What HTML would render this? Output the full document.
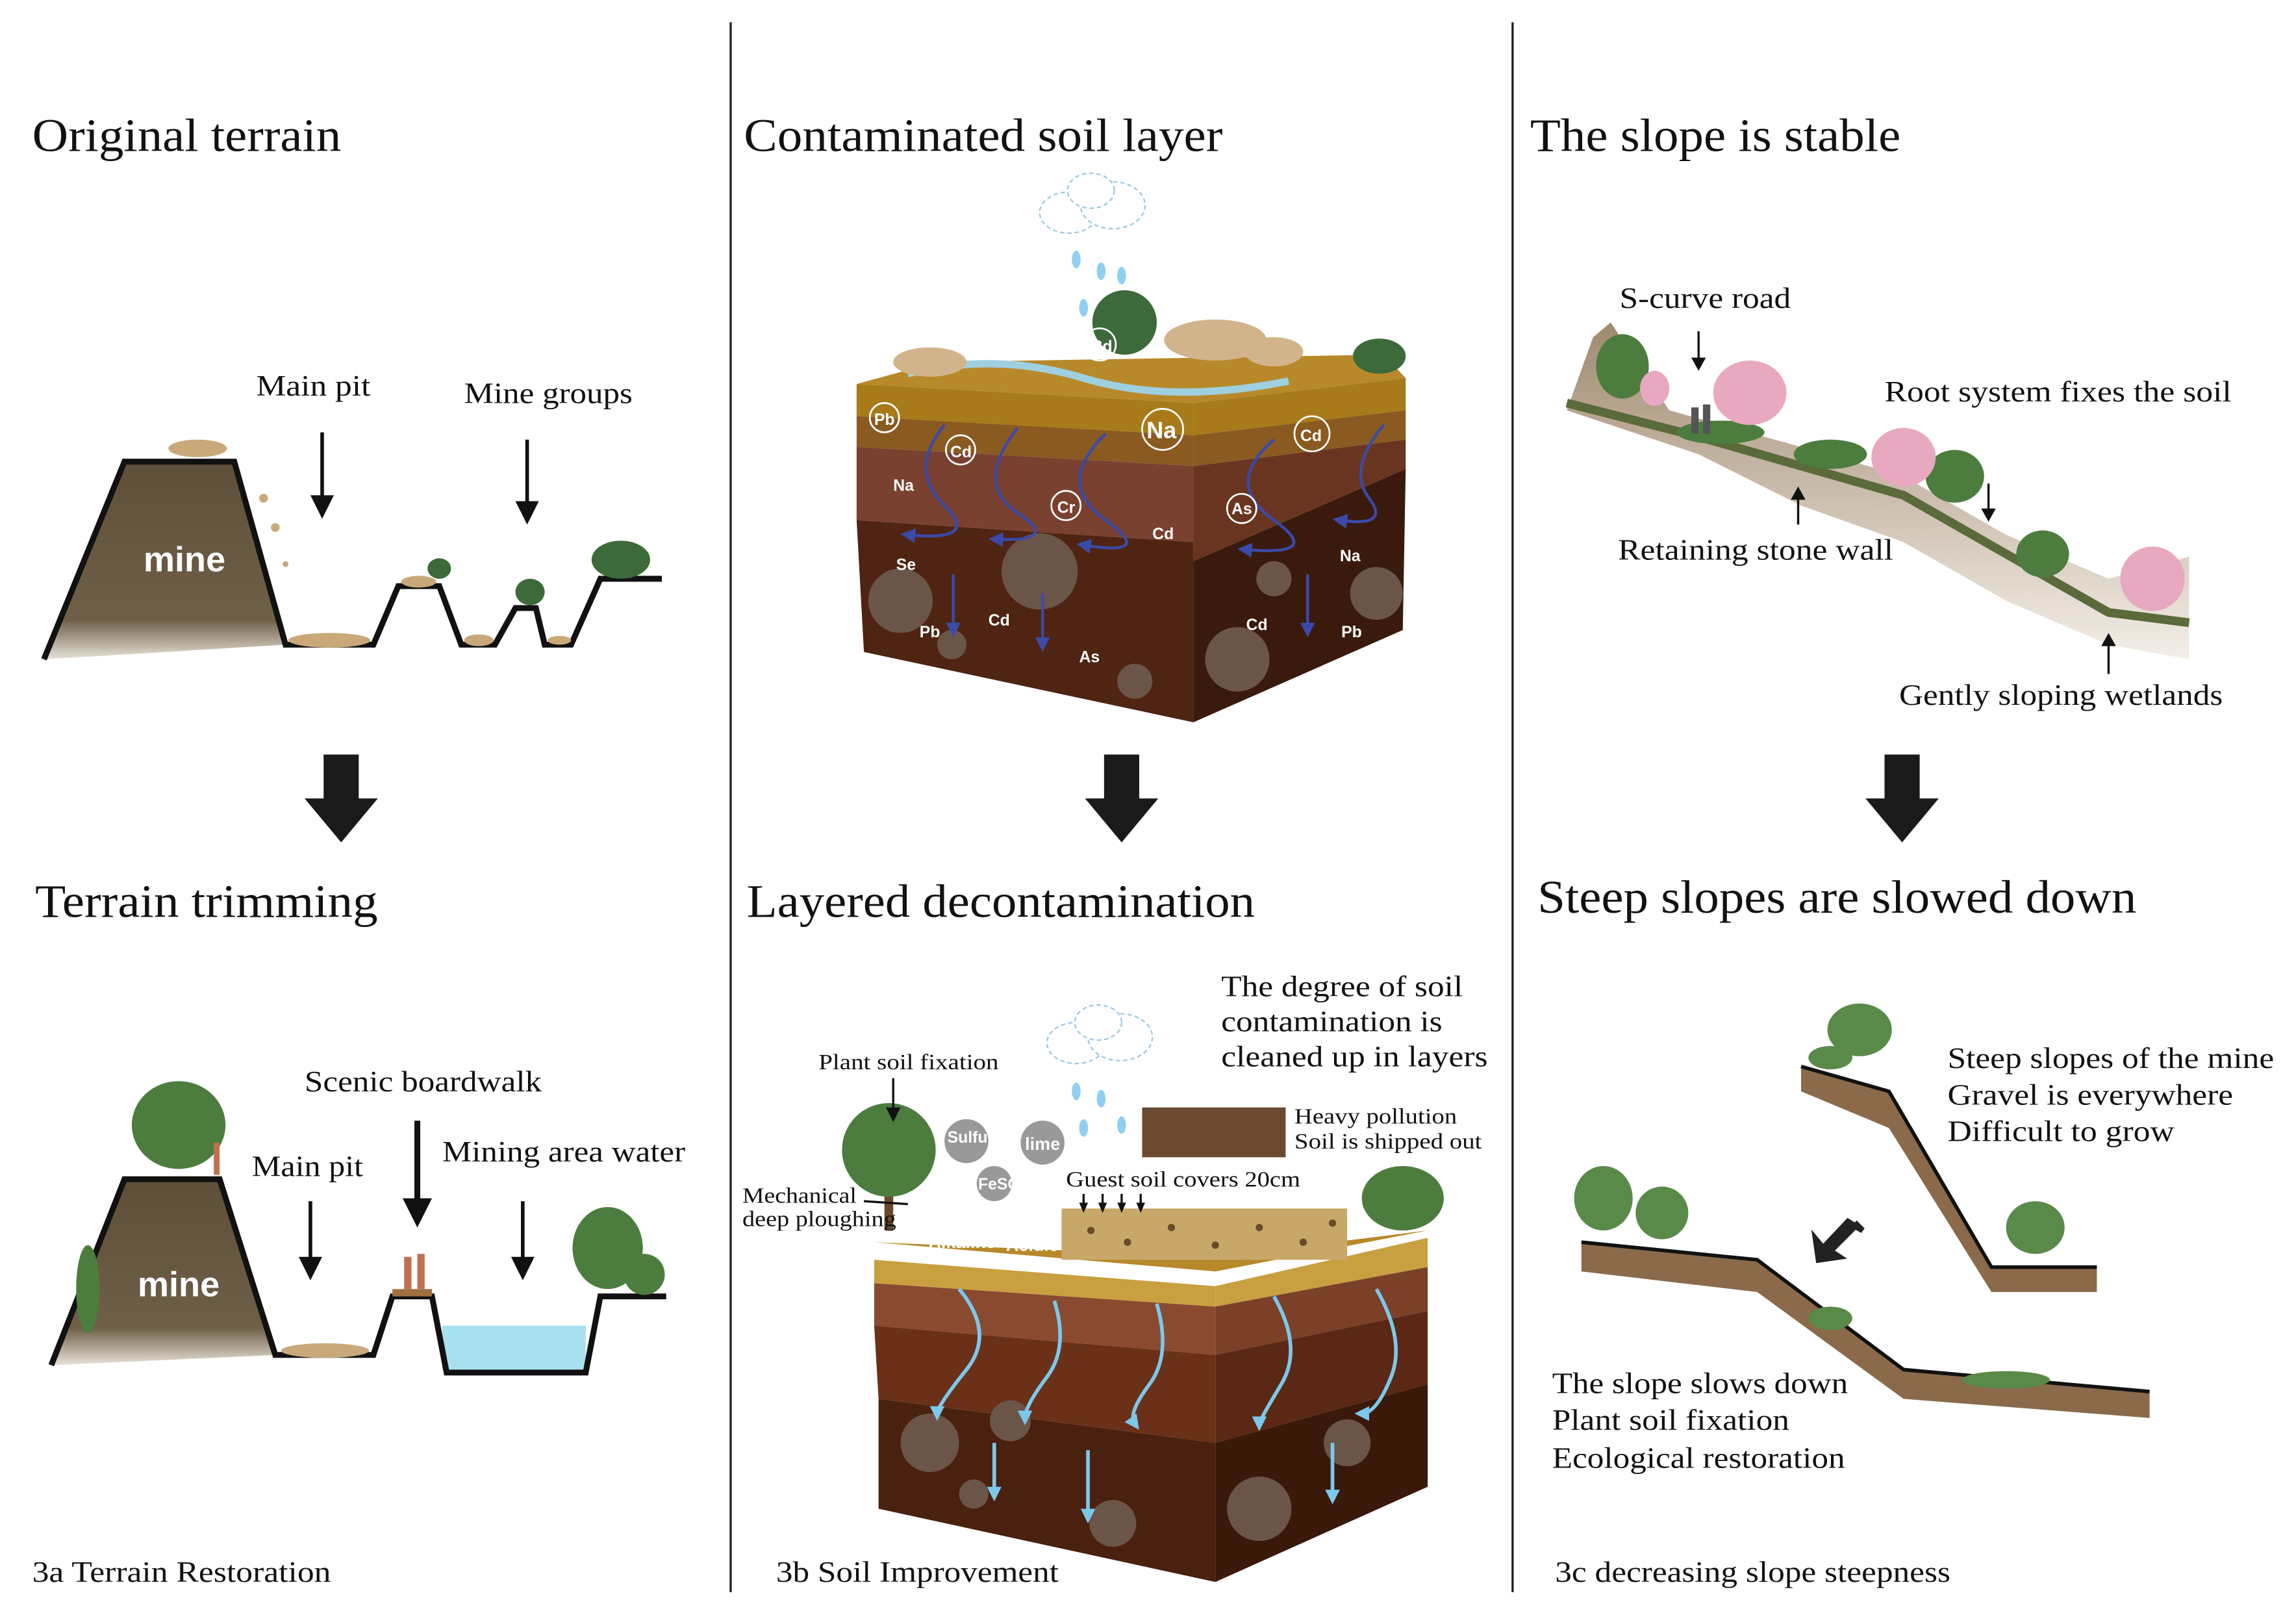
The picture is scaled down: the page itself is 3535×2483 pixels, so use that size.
<!DOCTYPE html>
<html><head><meta charset="utf-8"><style>
html,body{margin:0;padding:0;background:#fff;}
svg{display:block;}
.t{font-family:"Liberation Serif",serif;font-size:32px;fill:#111;}
.l{font-family:"Liberation Serif",serif;font-size:20px;fill:#111;}
.s{font-family:"Liberation Serif",serif;font-size:15px;fill:#111;}
.c{font-family:"Liberation Serif",serif;font-size:20px;fill:#111;}
.e{font-family:"Liberation Sans",sans-serif;font-size:11px;fill:#fff;font-weight:bold;}
</style></head><body>
<svg width="3535" height="2483" viewBox="0 0 1568 1101" xmlns="http://www.w3.org/2000/svg">
<defs>
<marker id="bh" markerWidth="10" markerHeight="10" refX="5" refY="5" orient="auto" viewBox="0 0 10 10" markerUnits="userSpaceOnUse"><path d="M0,0 L10,5 L0,10z" fill="#3a4aa8"/></marker>
<marker id="lh" markerWidth="10" markerHeight="10" refX="5" refY="5" orient="auto" viewBox="0 0 10 10" markerUnits="userSpaceOnUse"><path d="M0,0 L10,5 L0,10z" fill="#7cc8ec"/></marker>
<linearGradient id="mg" x1="0" y1="0" x2="0" y2="1"><stop offset="0" stop-color="#5e4f3a"/><stop offset="0.8" stop-color="#6e5f48"/><stop offset="1" stop-color="#e8e2d8"/></linearGradient>
<linearGradient id="sl" x1="0" y1="0" x2="0" y2="1"><stop offset="0" stop-color="#a08a70"/><stop offset="1" stop-color="#f4eee8"/></linearGradient>
</defs>
<rect width="1568" height="1101" fill="#fff"/>
<line x1="499" y1="15" x2="499" y2="1087" stroke="#222" stroke-width="1.5"/>
<line x1="1033" y1="15" x2="1033" y2="1087" stroke="#222" stroke-width="1.5"/>

<g lengthAdjust="spacingAndGlyphs">
<text class="t" x="22" y="103" textLength="211" lengthAdjust="spacingAndGlyphs">Original terrain</text>
<text class="t" x="508" y="103" textLength="327" lengthAdjust="spacingAndGlyphs">Contaminated soil layer</text>
<text class="t" x="1045" y="103" textLength="253" lengthAdjust="spacingAndGlyphs">The slope is stable</text>
<text class="t" x="24" y="626" textLength="234" lengthAdjust="spacingAndGlyphs">Terrain trimming</text>
<text class="t" x="510" y="626" textLength="347" lengthAdjust="spacingAndGlyphs">Layered decontamination</text>
<text class="t" x="1050" y="623" textLength="409" lengthAdjust="spacingAndGlyphs">Steep slopes are slowed down</text>
<text class="c" x="22" y="1080" textLength="204" lengthAdjust="spacingAndGlyphs">3a Terrain Restoration</text>
<text class="c" x="530" y="1080" textLength="193" lengthAdjust="spacingAndGlyphs">3b Soil Improvement</text>
<text class="c" x="1062" y="1080" textLength="270" lengthAdjust="spacingAndGlyphs">3c decreasing slope steepness</text>
</g>

<!-- big arrows -->
<g fill="#1a1a1a">
<path d="M221,515 H245 V545 H258 L233,575 L208,545 H221Z"/>
<path d="M754,515 H778 V545 H791 L766,575 L741,545 H754Z"/>
<path d="M1287,515 H1311 V545 H1324 L1299,575 L1274,545 H1287Z"/>
</g>

<!-- 3a top -->
<polygon points="30,450 85,315 160,315 195,440" fill="url(#mg)"/>
<path d="M30,450 L85,315 L160,315 L195,440 L255,440 L272,400 L300,400 L315,440 L338,440 L352,415 L366,415 L372,440 L390,440 L410,395 L452,395" fill="none" stroke="#111" stroke-width="4"/>
<text x="126" y="390" text-anchor="middle" font-family="Liberation Sans,sans-serif" font-size="24" font-weight="bold" fill="#fff">mine</text>
<g fill="#c9a97a"><ellipse cx="135" cy="306" rx="20" ry="6"/><ellipse cx="225" cy="437" rx="28" ry="5"/><ellipse cx="286" cy="397" rx="12" ry="4"/><ellipse cx="327" cy="437" rx="10" ry="4"/><ellipse cx="382" cy="437" rx="8" ry="3"/><circle cx="180" cy="340" r="3"/><circle cx="188" cy="360" r="3"/><circle cx="195" cy="385" r="2"/></g>
<g fill="#3d6a3a"><ellipse cx="424" cy="382" rx="20" ry="13"/><ellipse cx="362" cy="404" rx="10" ry="9"/><ellipse cx="300" cy="388" rx="8" ry="7"/></g>
<text class="l" x="175" y="270" textLength="78" lengthAdjust="spacingAndGlyphs">Main pit</text>
<text class="l" x="317" y="275" textLength="115" lengthAdjust="spacingAndGlyphs">Mine groups</text>
<g stroke="#111" stroke-width="2.5"><line x1="220" y1="295" x2="220" y2="340"/><line x1="360" y1="300" x2="360" y2="344"/></g>
<g fill="#111"><path d="M212,338 H228 L220,354Z"/><path d="M352,342 H368 L360,358Z"/></g>

<!-- 3a bottom -->
<rect x="302" y="905" width="98" height="30" fill="#a8e0f0"/>
<polygon points="35,932 85,805 150,805 188,925" fill="url(#mg)"/>
<path d="M35,932 L85,805 L150,805 L188,925 L255,925 L268,885 L295,885 L305,937 L400,937 L410,885 L455,885" fill="none" stroke="#111" stroke-width="4"/>
<text x="122" y="885" text-anchor="middle" font-family="Liberation Sans,sans-serif" font-size="24" font-weight="bold" fill="#fff">mine</text>
<g fill="#4c7d3e"><ellipse cx="122" cy="768" rx="32" ry="30"/><ellipse cx="415" cy="852" rx="24" ry="28"/><ellipse cx="60" cy="880" rx="8" ry="30"/><ellipse cx="440" cy="870" rx="14" ry="14"/></g>
<ellipse cx="222" cy="922" rx="30" ry="5" fill="#c9a97a"/>
<rect x="268" y="880" width="27" height="5" fill="#a07040"/>
<g fill="#c07050"><rect x="276" y="858" width="5" height="22"/><rect x="285" y="856" width="5" height="24"/><rect x="146" y="780" width="4" height="22"/></g>
<text class="l" x="208" y="745" textLength="162" lengthAdjust="spacingAndGlyphs">Scenic boardwalk</text>
<text class="l" x="172" y="803" textLength="76" lengthAdjust="spacingAndGlyphs">Main pit</text>
<text class="l" x="302" y="793" textLength="166" lengthAdjust="spacingAndGlyphs">Mining area water</text>
<g stroke="#111"><line x1="212" y1="820" x2="212" y2="860" stroke-width="2.5"/><line x1="285" y1="765" x2="285" y2="820" stroke-width="4"/><line x1="357" y1="820" x2="357" y2="860" stroke-width="2.5"/></g>
<g fill="#111"><path d="M204,858 H220 L212,874Z"/><path d="M275,818 H295 L285,838Z"/><path d="M349,858 H365 L357,874Z"/></g>

<!-- 3b top block -->
<g>
<polygon points="585,262 640,247 945,242 960,258 815,275" fill="#b8892a"/>
<path d="M620,255 Q680,240 740,258 T880,260" stroke="#9fd0e0" stroke-width="5" fill="none"/>
<polygon points="585,262 815,275 815,297 585,284" fill="#a87a1a"/>
<polygon points="585,284 815,297 815,318 585,305" fill="#8a5a20"/>
<polygon points="585,305 815,318 815,370 585,355" fill="#7a4030"/>
<polygon points="585,355 815,370 815,493 590,445" fill="#4f2412"/>
<polygon points="815,275 960,258 960,280 815,297" fill="#a87a1a"/>
<polygon points="815,297 960,280 960,300 815,318" fill="#8a5a20"/>
<polygon points="815,318 960,300 960,320 815,383" fill="#6a3520"/>
<polygon points="815,383 960,320 958,430 815,493" fill="#3a1a0c"/>
<g fill="#6b5548"><circle cx="615" cy="410" r="22"/><circle cx="710" cy="390" r="26"/><circle cx="845" cy="450" r="22"/><circle cx="940" cy="405" r="18"/><circle cx="650" cy="440" r="10"/><circle cx="775" cy="465" r="12"/><circle cx="870" cy="395" r="12"/></g>
<g fill="#d2b48c"><ellipse cx="635" cy="247" rx="25" ry="10"/><ellipse cx="830" cy="232" rx="35" ry="14"/><ellipse cx="870" cy="240" rx="20" ry="10"/></g>
<g fill="#3d6a3a"><ellipse cx="768" cy="220" rx="22" ry="22"/><ellipse cx="942" cy="243" rx="18" ry="12"/></g>
<g stroke="#3a4aa8" stroke-width="2" fill="none" marker-end="url(#bh)"><path d="M645,290 Q620,320 645,345 T620,365"/><path d="M695,292 Q665,330 695,350 T680,368"/><path d="M755,296 Q720,330 755,355 T740,372"/><path d="M870,300 Q835,330 870,355 T850,375"/><path d="M945,290 Q920,320 935,340 T915,355"/><path d="M651,392 V430"/><path d="M712,405 V440"/><path d="M893,392 V430"/></g>
<g fill="none" stroke="#fff" stroke-width="1.2"><circle cx="604" cy="285" r="10"/><circle cx="656" cy="307" r="10"/><circle cx="794" cy="293" r="14"/><circle cx="896" cy="296" r="12"/><circle cx="728" cy="345" r="10"/><circle cx="848" cy="347" r="10"/><circle cx="751" cy="235" r="11"/></g>
<g class="e"><text x="597" y="290">Pb</text><text x="649" y="312">Cd</text><text x="783" y="299" font-size="16">Na</text><text x="888" y="301">Cd</text><text x="722" y="350">Cr</text><text x="841" y="351">As</text><text x="745" y="240">Cd</text><text x="612" y="389">Se</text><text x="628" y="435">Pb</text><text x="675" y="427">Cd</text><text x="737" y="452">As</text><text x="851" y="430">Cd</text><text x="916" y="435">Pb</text><text x="915" y="383">Na</text><text x="610" y="335">Na</text><text x="787" y="368">Cd</text></g>
</g>
<g fill="#fff" stroke="#9cc8e0" stroke-dasharray="3,2"><ellipse cx="730" cy="145" rx="20" ry="14"/><ellipse cx="760" cy="140" rx="22" ry="16"/><ellipse cx="745" cy="130" rx="16" ry="12"/></g>
<g fill="#8fd0f0"><ellipse cx="735" cy="177" rx="3" ry="6"/><ellipse cx="752" cy="185" rx="3" ry="6"/><ellipse cx="766" cy="188" rx="3" ry="6"/><ellipse cx="740" cy="210" rx="3" ry="6"/></g>

<!-- 3b bottom block -->
<g>
<polygon points="597,848 830,858 975,840 830,868" fill="#b8892a"/>
<polygon points="597,860 830,878 830,892 597,876" fill="#c8a040"/>
<polygon points="597,876 830,892 830,925 597,905" fill="#8a4a30"/>
<polygon points="597,905 830,925 830,985 600,955" fill="#6a3018"/>
<polygon points="600,955 830,985 830,1080 600,1030" fill="#4a200e"/>
<polygon points="830,878 975,845 975,865 830,892" fill="#c8a040"/>
<polygon points="830,892 975,865 975,895 830,925" fill="#7a4028"/>
<polygon points="830,925 975,895 975,945 830,985" fill="#5a2814"/>
<polygon points="830,985 975,945 975,1015 830,1080" fill="#3a180a"/>
<rect x="725" y="825" width="195" height="35" fill="#c8a868"/>
<g fill="#6a4a2a"><circle cx="745" cy="840" r="2.5"/><circle cx="770" cy="848" r="2.5"/><circle cx="800" cy="838" r="2.5"/><circle cx="830" cy="850" r="2.5"/><circle cx="860" cy="838" r="2.5"/><circle cx="890" cy="848" r="2.5"/><circle cx="910" cy="835" r="2.5"/></g>
<rect x="780" y="756" width="98" height="34" fill="#6b4a30"/>
<g fill="#6b5548"><circle cx="635" cy="985" r="20"/><circle cx="690" cy="970" r="14"/><circle cx="760" cy="1040" r="16"/><circle cx="860" cy="1030" r="22"/><circle cx="920" cy="985" r="16"/><circle cx="665" cy="1020" r="10"/></g>
<g stroke="#7cc8ec" stroke-width="2.5" fill="none" marker-end="url(#lh)"><path d="M655,880 Q680,910 660,935 T640,965"/><path d="M720,888 Q730,920 715,940 T700,968"/><path d="M790,890 Q800,925 785,945 T775,972"/><path d="M870,885 Q890,920 875,945 T860,972"/><path d="M940,880 Q960,915 950,940 T930,965"/><path d="M679,985 V1020"/><path d="M743,990 V1035"/><path d="M910,985 V1022"/></g>
<rect x="604" y="800" width="6" height="40" fill="#6a4a2a"/>
<g fill="#4c7d3e"><ellipse cx="607" cy="785" rx="32" ry="32"/><ellipse cx="958" cy="818" rx="28" ry="22"/></g>
<g fill="#999"><circle cx="660" cy="779" r="15"/><circle cx="712" cy="780" r="15"/><circle cx="679" cy="808" r="12"/></g>
<g class="e" font-size="9"><text x="647" y="780">Sulfur</text><text x="700" y="785" font-size="12">lime</text><text x="668" y="812">FeSO4</text><text x="634" y="852" font-size="12">Alkaline</text><text x="687" y="854" font-size="12">Acidic</text></g>
</g>
<g fill="#fff" stroke="#9cc8e0" stroke-dasharray="3,2"><ellipse cx="735" cy="712" rx="20" ry="14"/><ellipse cx="765" cy="708" rx="22" ry="16"/><ellipse cx="750" cy="698" rx="16" ry="12"/></g>
<g fill="#8fd0f0"><ellipse cx="735" cy="745" rx="3" ry="6"/><ellipse cx="752" cy="750" rx="3" ry="6"/><ellipse cx="766" cy="768" rx="3" ry="6"/><ellipse cx="740" cy="770" rx="3" ry="6"/></g>
<text class="s" x="559" y="730" textLength="123" lengthAdjust="spacingAndGlyphs">Plant soil fixation</text>
<text class="s" x="507" y="821" textLength="78" lengthAdjust="spacingAndGlyphs">Mechanical</text>
<text class="s" x="507" y="837" textLength="105" lengthAdjust="spacingAndGlyphs">deep ploughing</text>
<text class="s" x="728" y="810" textLength="160" lengthAdjust="spacingAndGlyphs">Guest soil covers 20cm</text>
<text class="s" x="884" y="767" textLength="111" lengthAdjust="spacingAndGlyphs">Heavy pollution</text>
<text class="s" x="884" y="784" textLength="128" lengthAdjust="spacingAndGlyphs">Soil is shipped out</text>
<text class="l" x="834" y="680" textLength="165" lengthAdjust="spacingAndGlyphs">The degree of soil</text>
<text class="l" x="834" y="704" textLength="151" lengthAdjust="spacingAndGlyphs">contamination is</text>
<text class="l" x="834" y="728" textLength="182" lengthAdjust="spacingAndGlyphs">cleaned up in layers</text>
<g stroke="#111" stroke-width="1.5"><line x1="610" y1="736" x2="610" y2="758"/><line x1="740" y1="815" x2="740" y2="822"/><line x1="753" y1="815" x2="753" y2="822"/><line x1="766" y1="815" x2="766" y2="822"/><line x1="779" y1="815" x2="779" y2="822"/><line x1="590" y1="820" x2="620" y2="822"/></g>
<g fill="#111"><path d="M605,756 H615 L610,766Z"/><path d="M737,821 H743 L740,828Z"/><path d="M750,821 H756 L753,828Z"/><path d="M763,821 H769 L766,828Z"/><path d="M776,821 H782 L779,828Z"/></g>

<!-- 3c top -->
<polygon points="1088,230 1100,220 1140,280 1230,305 1300,325 1370,365 1440,395 1495,380 1495,450 1440,440 1370,410 1300,370 1230,345 1160,310 1070,280" fill="url(#sl)"/>
<path d="M1070,275 L1160,298 L1230,318 L1300,338 L1370,378 L1440,418 L1495,425" stroke="#5a6a3a" stroke-width="6" fill="none"/>
<g fill="#4c7d3e"><ellipse cx="1108" cy="250" rx="18" ry="22"/><ellipse cx="1335" cy="325" rx="20" ry="18"/><ellipse cx="1395" cy="378" rx="18" ry="16"/><ellipse cx="1250" cy="310" rx="25" ry="10"/><ellipse cx="1175" cy="295" rx="30" ry="8"/></g>
<g fill="#e8a8c0"><ellipse cx="1195" cy="268" rx="25" ry="22"/><ellipse cx="1300" cy="312" rx="22" ry="20"/><ellipse cx="1470" cy="395" rx="22" ry="22"/><ellipse cx="1130" cy="265" rx="10" ry="12"/></g>
<g fill="#555"><rect x="1155" y="278" width="5" height="18"/><rect x="1163" y="276" width="5" height="20"/></g>
<text class="l" x="1106" y="210" textLength="117" lengthAdjust="spacingAndGlyphs">S-curve road</text>
<text class="l" x="1287" y="274" textLength="237" lengthAdjust="spacingAndGlyphs">Root system fixes the soil</text>
<text class="l" x="1105" y="382" textLength="188" lengthAdjust="spacingAndGlyphs">Retaining stone wall</text>
<text class="l" x="1297" y="481" textLength="221" lengthAdjust="spacingAndGlyphs">Gently sloping wetlands</text>
<g stroke="#111" stroke-width="1.5"><line x1="1160" y1="226" x2="1160" y2="245"/><line x1="1358" y1="330" x2="1358" y2="348"/><line x1="1228" y1="358" x2="1228" y2="340"/><line x1="1440" y1="460" x2="1440" y2="440"/></g>
<g fill="#111"><path d="M1155,244 H1165 L1160,253Z"/><path d="M1353,347 H1363 L1358,356Z"/><path d="M1223,341 H1233 L1228,332Z"/><path d="M1435,441 H1445 L1440,432Z"/></g>

<!-- 3c bottom -->
<polygon points="1230,728 1290,745 1360,865 1432,865 1432,882 1360,882 1290,770 1230,745" fill="#8a6a4a"/>
<path d="M1230,728 L1290,745 L1360,865 L1432,865" stroke="#111" stroke-width="2.5" fill="none"/>
<polygon points="1080,848 1200,860 1300,935 1468,950 1468,968 1300,955 1200,882 1080,868" fill="#8a6a4a"/>
<path d="M1080,848 L1200,860 L1300,935 L1468,950" stroke="#111" stroke-width="2.5" fill="none"/>
<g fill="#5a8a4a"><ellipse cx="1270" cy="703" rx="22" ry="18"/><ellipse cx="1250" cy="722" rx="15" ry="8"/><ellipse cx="1390" cy="838" rx="20" ry="18"/><ellipse cx="1095" cy="818" rx="20" ry="22"/><ellipse cx="1135" cy="828" rx="18" ry="18"/><ellipse cx="1250" cy="900" rx="15" ry="8"/><ellipse cx="1370" cy="942" rx="30" ry="6"/></g>
<path d="M1272,840 L1262,834 L1245,852 L1240,846 L1242,860 L1256,858 L1250,854 L1268,836Z" fill="#222" stroke="#222" stroke-width="4"/>
<text class="l" x="1330" y="729" textLength="223" lengthAdjust="spacingAndGlyphs">Steep slopes of the mine</text>
<text class="l" x="1330" y="754" textLength="195" lengthAdjust="spacingAndGlyphs">Gravel is everywhere</text>
<text class="l" x="1330" y="779" textLength="155" lengthAdjust="spacingAndGlyphs">Difficult to grow</text>
<text class="l" x="1060" y="951" textLength="202" lengthAdjust="spacingAndGlyphs">The slope slows down</text>
<text class="l" x="1060" y="976" textLength="162" lengthAdjust="spacingAndGlyphs">Plant soil fixation</text>
<text class="l" x="1060" y="1002" textLength="200" lengthAdjust="spacingAndGlyphs">Ecological restoration</text>
</svg>
</body></html>
